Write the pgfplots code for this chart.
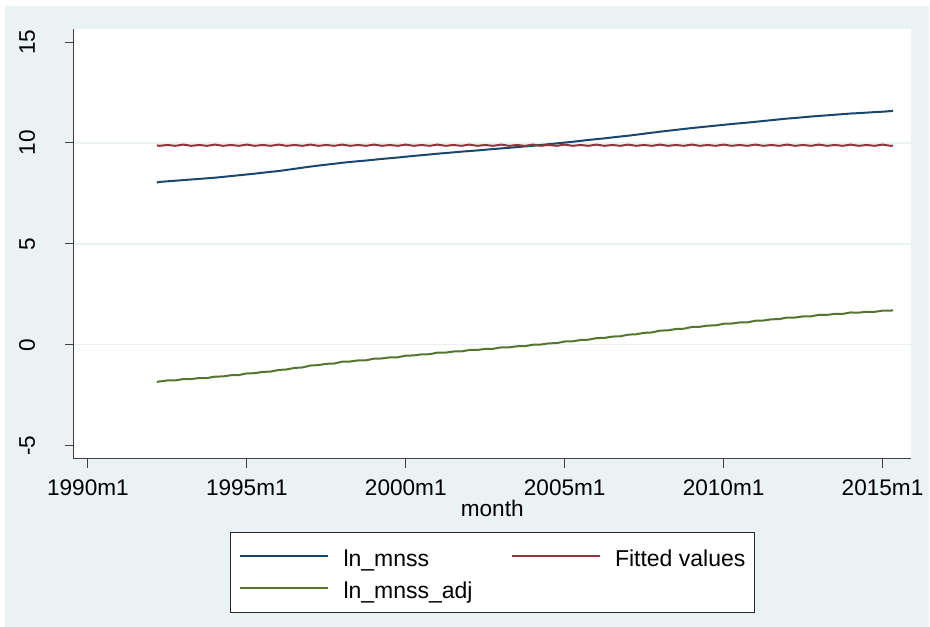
\documentclass[border=0pt]{standalone}
\usepackage{pgfplots}
\pgfplotsset{compat=1.18}
\usepackage{pgfplotstable}
\usepackage{fontspec}
\setmainfont{Liberation Sans}
\definecolor{bgc}{RGB}{234,242,243}
\definecolor{snavy}{RGB}{26,71,111}
\definecolor{smaroon}{RGB}{144,53,59}
\definecolor{sgreen}{RGB}{85,117,47}
\pgfplotstableread{
x blue red green
1992.167 8.04 9.88 -1.84
1992.25 8.07 9.86 -1.82
1992.5 8.10 9.90 -1.77
1992.75 8.13 9.86 -1.77
1993 8.16 9.92 -1.70
1993.25 8.19 9.86 -1.70
1993.5 8.22 9.90 -1.65
1993.75 8.25 9.86 -1.65
1994 8.28 9.92 -1.58
1994.25 8.32 9.86 -1.57
1994.5 8.36 9.90 -1.51
1994.75 8.40 9.86 -1.50
1995 8.44 9.92 -1.42
1995.25 8.48 9.86 -1.41
1995.5 8.525 9.90 -1.345
1995.75 8.57 9.86 -1.33
1996 8.61 9.92 -1.25
1996.25 8.665 9.86 -1.225
1996.5 8.72 9.90 -1.15
1996.75 8.775 9.86 -1.125
1997 8.83 9.92 -1.03
1997.25 8.88 9.86 -1.01
1997.5 8.925 9.90 -0.945
1997.75 8.97 9.86 -0.93
1998 9.02 9.92 -0.84
1998.25 9.06 9.86 -0.83
1998.5 9.095 9.90 -0.775
1998.75 9.13 9.86 -0.77
1999 9.17 9.92 -0.69
1999.25 9.21 9.86 -0.68
1999.5 9.245 9.90 -0.625
1999.75 9.28 9.86 -0.62
2000 9.32 9.92 -0.54
2000.25 9.36 9.86 -0.53
2000.5 9.395 9.90 -0.475
2000.75 9.43 9.86 -0.47
2001 9.47 9.92 -0.39
2001.25 9.50 9.86 -0.39
2001.5 9.535 9.90 -0.335
2001.75 9.57 9.86 -0.33
2002 9.60 9.92 -0.26
2002.25 9.63 9.86 -0.26
2002.5 9.665 9.90 -0.205
2002.75 9.70 9.86 -0.20
2003 9.73 9.92 -0.13
2003.25 9.76 9.86 -0.13
2003.5 9.795 9.90 -0.075
2003.75 9.83 9.86 -0.07
2004 9.86 9.92 0.00
2004.25 9.90 9.86 0.01
2004.5 9.94 9.90 0.07
2004.75 9.98 9.86 0.08
2005 10.02 9.92 0.16
2005.25 10.06 9.86 0.17
2005.5 10.105 9.90 0.235
2005.75 10.15 9.86 0.25
2006 10.19 9.92 0.33
2006.25 10.23 9.86 0.34
2006.5 10.275 9.90 0.405
2006.75 10.32 9.86 0.42
2007 10.36 9.92 0.50
2007.25 10.41 9.86 0.52
2007.5 10.46 9.90 0.59
2007.75 10.51 9.86 0.61
2008 10.56 9.92 0.70
2008.25 10.605 9.86 0.715
2008.5 10.65 9.90 0.78
2008.75 10.695 9.86 0.795
2009 10.74 9.92 0.88
2009.25 10.78 9.86 0.89
2009.5 10.82 9.90 0.95
2009.75 10.86 9.86 0.96
2010 10.90 9.92 1.04
2010.25 10.94 9.86 1.05
2010.5 10.975 9.90 1.105
2010.75 11.01 9.86 1.11
2011 11.05 9.92 1.19
2011.25 11.09 9.86 1.20
2011.5 11.13 9.90 1.26
2011.75 11.17 9.86 1.27
2012 11.21 9.92 1.35
2012.25 11.24 9.86 1.35
2012.5 11.275 9.90 1.405
2012.75 11.31 9.86 1.41
2013 11.34 9.92 1.48
2013.25 11.37 9.86 1.48
2013.5 11.40 9.90 1.53
2013.75 11.43 9.86 1.53
2014 11.46 9.92 1.60
2014.25 11.48 9.86 1.59
2014.5 11.505 9.90 1.635
2014.75 11.53 9.86 1.63
2015 11.55 9.92 1.69
2015.25 11.58 9.86 1.69
2015.333 11.59 9.87 1.71
}\mydata
\begin{document}
\begin{tikzpicture}
\fill[white] (0,0) rectangle (465pt,313.5pt);
\fill[bgc] (2.5pt,0) rectangle (465pt,310.5pt);
\begin{axis}[
  at={(37pt,84pt)}, anchor=south west,
  width=418.5pt, height=215pt, scale only axis,
  xmin=1989.56, xmax=2015.88, ymin=-5.65, ymax=15.65,
  axis background/.style={fill=white},
  axis lines=left, axis line style={-, black!75, line width=0.5pt},
  tick align=outside, major tick length=4.5pt,
  tick style={black!75, line width=0.5pt},
  xtick={1990,1995,2000,2005,2010,2015},
  xticklabels={1990m1,1995m1,2000m1,2005m1,2010m1,2015m1},
  ytick={-5,0,5,10,15},
  yticklabels={-5,0,5,10,15},
  extra y ticks={0,5,10}, extra y tick labels={},
  extra y tick style={grid=major, major tick length=0pt},
  grid style={bgc, line width=0.75pt},
  ticklabel style={font=\fontsize{11.3}{13}\selectfont},
  xticklabel style={anchor=base},
  xticklabel shift=14pt,
  yticklabel style={rotate=90, anchor=base},
  yticklabel shift=15pt,
  xlabel={month},
  xlabel style={font=\fontsize{11.3}{13}\selectfont, anchor=base, at={(axis description cs:0.5,0)}, yshift=-29pt},
  legend columns=2,
  legend cell align=left,
  legend image code/.code={\draw[#1, line width=1pt] (0pt,0pt) -- (44pt,0pt);},
  legend style={at={(axis description cs:0.5,0)}, anchor=north, yshift=-36.5pt,
    draw=black!85, line width=0.5pt, fill=white,
    font=\fontsize{11.5}{13}\selectfont,
    inner xsep=4.5pt, inner ysep=6.5pt,
    nodes={inner sep=0pt, text height=10.5pt, text depth=0.5pt},
    row sep=5pt,
    /tikz/every odd column/.append style={column sep=7.25pt},
    /tikz/every even column/.append style={column sep=19pt}},
]
\addplot[snavy, line width=1pt] table[x=x, y=blue] {\mydata};
\addlegendentry{ln\_mnss}
\addplot[smaroon, line width=1pt] table[x=x, y=red] {\mydata};
\addlegendentry{Fitted values}
\addplot[sgreen, line width=1pt] table[x=x, y=green] {\mydata};
\addlegendentry{ln\_mnss\_adj}
\end{axis}
\end{tikzpicture}
\end{document}
